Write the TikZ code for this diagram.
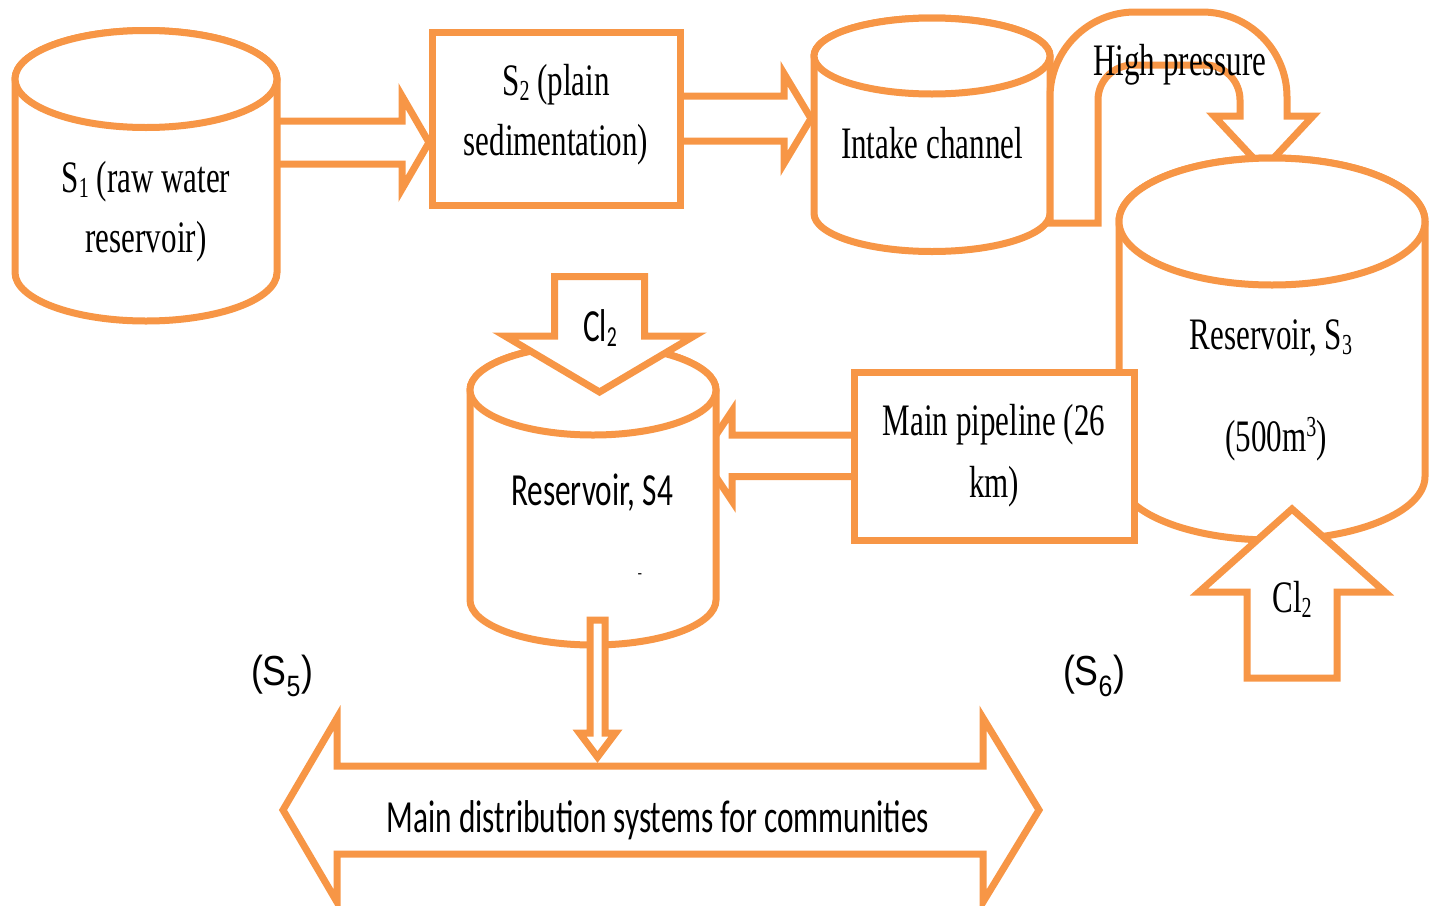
\documentclass[tikz,border=0pt]{standalone}
\usepackage{fontspec}
\newfontfamily\timesn[FakeStretch=0.69]{Liberation Serif}
\newfontfamily\calibn[FakeStretch=0.68]{Carlito}
\newfontfamily\arialn[FakeStretch=0.85]{Liberation Sans}
\definecolor{pipe}{HTML}{F79646}

\tikzset{
  ora/.style={draw=pipe, line width=7pt, fill=white},
  serif/.style={font=\timesn\fontsize{45}{54}\selectfont, inner sep=0pt, anchor=base},
  narrow/.style={font=\calibn\fontsize{46}{55}\selectfont, inner sep=0pt, anchor=base},
  plain/.style={font=\arialn\fontsize{42}{50}\selectfont, inner sep=0pt, anchor=base},
}

% small lowered index, as in S1, Cl2
\newcommand{\lowidx}[1]{\raisebox{-5pt}{\fontsize{29}{29}\selectfont #1}}

% tank: name, centre x, top y, bottom y, x radius, y radius
\newcommand{\drawtank}[6]{%
  \filldraw[ora] ({#2-#5},#3) -- ({#2-#5},#4)
    arc[start angle=180, end angle=0, x radius=#5, y radius=#6]
    -- ({#2+#5},#3)
    arc[start angle=0, end angle=-180, x radius=#5, y radius=#6] -- cycle;
  \draw[ora] (#2,#3) ellipse[x radius=#5, y radius=#6];
  \coordinate (#1) at (#2,{(#3+#4)/2});
}

\begin{document}
\begin{tikzpicture}[x=1pt, y=-1pt]
    \useasboundingbox (0,0) rectangle (1434,905);

    % S1 -> S2
    \filldraw[ora] (270,121) -- (402,121) -- (402,96) -- (429,142.5) -- (402,189) -- (402,164) -- (270,164) -- cycle;
    \drawtank{s1}{146}{79}{272.5}{131}{48.5}

    % S2 -> intake channel
    \filldraw[ora] (675,96) -- (784,96) -- (784,73.5) -- (811,118.5) -- (784,163.5) -- (784,141) -- (675,141) -- cycle;
    \node[ora, minimum width=248pt, minimum height=173pt] (s2) at (556,118.5) {};

    \drawtank{intake}{932}{56}{213.5}{118}{38}

    % High pressure bend into S3
    \filldraw[ora] (1050,223) -- (1050,97)
        arc[start angle=180, end angle=270, radius=85] -- (1202,12)
        arc[start angle=270, end angle=360, radius=85] -- (1287,116)
        -- (1313,116) -- (1263.5,169) -- (1214,116) -- (1240,116) -- (1240,100)
        arc[start angle=0, end angle=-90, radius=35] -- (1133,65)
        arc[start angle=270, end angle=180, radius=35] -- (1098,223) -- cycle;

    \drawtank{s3}{1272}{221.5}{476.5}{153}{63.5}

    % main pipeline -> S4
    \filldraw[ora] (860,435) -- (732,435) -- (732,411) -- (702,456) -- (732,501) -- (732,476.5) -- (860,476.5) -- cycle;
    \node[ora, minimum width=280pt, minimum height=168pt] (mainpipe) at (994,456) {};

    \drawtank{s4}{593}{390}{600}{123}{45}

    % chlorine into S4
    \filldraw[ora] (554.5,276.5) -- (644.5,276.5) -- (644.5,336) -- (694,336) -- (599.5,392) -- (505,336) -- (554.5,336) -- cycle;

    % S4 -> distribution
    \filldraw[ora] (590,620) -- (605,620) -- (605,733) -- (615.5,733) -- (597.5,757) -- (579.5,733) -- (590,733) -- cycle;
    \filldraw[ora] (283,810) -- (337,718) -- (337,766) -- (983,766) -- (983,718) -- (1039,810)
        -- (983,902) -- (983,854) -- (337,854) -- (337,902) -- cycle;

    % chlorine into S3
    \filldraw[ora] (1247,678) -- (1247,592) -- (1199,592) -- (1292,509) -- (1385,592) -- (1337,592) -- (1337,678) -- cycle;

    % labels
    \node[serif] (s1a) at (146,192) {S\lowidx{1} (raw water};
    \node[serif] (s1b) at (146,252) {reservoir)};
    \node[serif] (s2a) at (556,95) {S\lowidx{2} (plain};
    \node[serif] (s2b) at (556,155) {sedimentation)};
    \node[serif] (intk) at (932,158) {Intake channel};
    \node[serif] (hp) at (1180,75) {High pressure};
    \node[serif] (s3a) at (1271,349) {Reservoir, S\lowidx{3}};
    \node[serif] (s3b) at (1276,451) {(500m\raisebox{15pt}{\fontsize{29}{29}\selectfont 3})};
    \node[serif] (mp1) at (994,435) {Main pipeline (26};
    \node[serif] (mp2) at (994,497) {km)};
    \node[serif] (cl2b) at (1292,612) {Cl\lowidx{2}};
    \node[narrow] (s4t) at (592,505) {Reservoir, S4};
    \node[narrow] (cl2a) at (600,341) {Cl\lowidx{2}};
    \node[narrow] (dist) at (658,832) {Main distribution systems for communities};
    \node[plain] (s5) at (282,685) {(S\textsubscript{5})};
    \node[plain] (s6) at (1094,685) {(S\textsubscript{6})};
    \node[plain, font=\arialn\fontsize{16}{16}\selectfont] (dash) at (640,578) {-};
\end{tikzpicture}
\end{document}
